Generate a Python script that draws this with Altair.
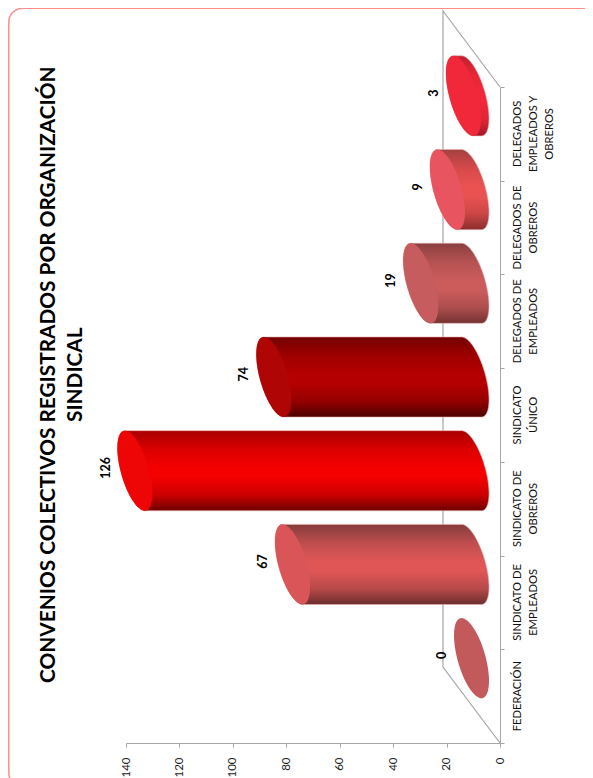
import math
import altair as alt
import pandas as pd

categories = ["FEDERACIÓN", "SINDICATO DE\nEMPLEADOS", "SINDICATO DE\nOBREROS", "SINDICATO\nÚNICO",
              "DELEGADOS DE\nEMPLEADOS", "DELEGADOS DE\nOBREROS", "DELEGADOS\nEMPLEADOS Y\nOBREROS"]
values = [0, 67, 126, 74, 19, 9, 3]
cap_colors = ["#c25a5c", "#d95558", "#ee0505", "#b00505", "#c65c5e", "#e85560", "#f0283a"]
edge_top = ["#c25a5c", "#853c3c", "#a80000", "#730000", "#8a4040", "#a54040", "#c02030"]
edge_q1 = ["#c25a5c", "#c04e4e", "#dc0000", "#a00000", "#b65252", "#d64a4a", "#e82636"]
edge_mid = ["#c25a5c", "#e05656", "#f40000", "#b40000", "#cc5c5c", "#ea5252", "#f0283a"]
edge_q3 = ["#c25a5c", "#b84a4a", "#cc0000", "#960000", "#ae4e4e", "#cc4646", "#e02434"]
edge_bot = ["#c25a5c", "#6c2e2e", "#6e0000", "#4c0000", "#743232", "#8a2e2e", "#a01a28"]
title_lines = ["CONVENIOS COLECTIVOS REGISTRADOS POR ORGANIZACIÓN", "SINDICAL"]
value_ticks = [0, 20, 40, 60, 80, 100, 120, 140]
category_ticks = [0, 1, 2, 3, 4, 5, 6, 7]

GREY = "#a6a6a6"
PX_W, PX_H = 374, 656
UX, UY = PX_W / 140, PX_H / 7          # pixels per data unit
DEPTH_X, DEPTH_Y = 57 / UX, 76 / UY    # depth of the 3D floor, in data units
VX, VY, RAD = 17.5, 22.7, 33.0         # projected circle, in pixels
R = math.hypot(RAD, VY)

sx = alt.Scale(domain=[140, 0], nice=False, zero=False)
sy = alt.Scale(domain=[0, 7], nice=False, zero=False)
axis_x = alt.Axis(values=value_ticks, labelAngle=270, labelAlign="right", labelBaseline="middle",
                  labelFont="Lato", labelFontSize=11.5, labelColor="#222222", labelPadding=10,
                  tickSize=4, tickColor=GREY, domainColor=GREY, grid=False, title=None)
axis_y = alt.Axis(orient="right", values=category_ticks, labels=False, tickSize=4, tickColor=GREY,
                  domainColor=GREY, grid=False, title=None)
X = lambda f, **k: alt.X(f, type="quantitative", scale=sx, axis=axis_x, title=None, **k)
Y = lambda f, **k: alt.Y(f, type="quantitative", scale=sy, axis=axis_y, title=None, **k)


def ellipse_bounds(py):
    s = math.sqrt(max(R * R - py * py, 0))
    mid = VX * VY * py / (R * R)
    half = VX * RAD * s / (R * R)
    return mid - half, mid + half


layers = []

# Frame of the page
layers.append(alt.Chart(pd.DataFrame({"a": [0]})).mark_rect(
    filled=False, stroke="#ff8f86", strokeWidth=1.5, cornerRadius=14, fill=None).encode(
    x=alt.value(-117.2), x2=alt.value(560), y=alt.value(-78.8), y2=alt.value(700)))

# Back wall and floor edges
wall = pd.DataFrame({"x": [0, DEPTH_X, DEPTH_X, 0], "y": [7, 7 + DEPTH_Y, DEPTH_Y, 0], "o": [0, 1, 2, 3]})
layers.append(alt.Chart(wall).mark_line(color=GREY, strokeWidth=1.2, clip=False).encode(
    x=X("x"), y=Y("y"), order="o:O"))

# Cylinders
ys = [R * math.sin(math.pi * k / 60 - math.pi / 2) for k in range(61)]
base_v = DEPTH_X / 2
for i, v in enumerate(values):
    cy = i + 0.5 + DEPTH_Y / 2
    cap_v = v + base_v
    body, cap = [], []
    for py in ys:
        lo, hi = ellipse_bounds(py)
        row_y = cy - py / UY
        body.append({"y": row_y, "x": cap_v - lo / UX, "x2": base_v - hi / UX})
        cap.append({"y": row_y, "x": cap_v - lo / UX, "x2": cap_v - hi / UX})
    if v > 0:
        grad = alt.Gradient(gradient="linear", x1=0, x2=0, y1=0, y2=1, stops=[
            alt.GradientStop(color=edge_top[i], offset=0),
            alt.GradientStop(color=edge_q1[i], offset=0.24),
            alt.GradientStop(color=edge_mid[i], offset=0.46),
            alt.GradientStop(color=edge_mid[i], offset=0.58),
            alt.GradientStop(color=edge_q3[i], offset=0.8),
            alt.GradientStop(color=edge_bot[i], offset=1),
        ])
        layers.append(alt.Chart(pd.DataFrame(body)).mark_area(
            orient="horizontal", color=grad, clip=False, stroke="#eeb0b0", strokeWidth=0.6).encode(
            y=Y("y"), x=X("x", stack=None), x2="x2"))
    layers.append(alt.Chart(pd.DataFrame(cap)).mark_area(
        orient="horizontal", color=cap_colors[i], clip=False).encode(
        y=Y("y"), x=X("x", stack=None), x2="x2"))

# Value labels
labels = pd.DataFrame({"t": [str(v) for v in values],
                       "x": [v + base_v + 11 for v in values],
                       "y": [i + 0.5 + DEPTH_Y / 2 + 0.03 for i in range(7)]})
layers.append(alt.Chart(labels).mark_text(angle=270, font="Lato", fontWeight="bold", fontSize=12.5,
                                          color="#000000", align="center", baseline="middle", clip=False).encode(
    x=X("x"), y=Y("y"), text="t:N"))

# Category labels
cats = pd.DataFrame({"t": categories, "x": [-4.4] * 7, "y": [i + 0.5 for i in range(7)]})
layers.append(alt.Chart(cats).mark_text(angle=270, font="Lato", fontSize=11.2, color="#111111", align="center",
                                        baseline="top", lineBreak="\n", lineHeight=16, clip=False).encode(
    x=X("x"), y=Y("y"), text="t:N"))

# Title
titles = pd.DataFrame({"t": title_lines, "x": [169.0, 158.7], "y": [3.93, 3.93]})
layers.append(alt.Chart(titles).mark_text(angle=270, font="Lato", fontWeight="bold", fontSize=20.8,
                                          color="#000000", align="center", baseline="middle", clip=False).encode(
    x=X("x"), y=Y("y"), text="t:N"))

chart = alt.layer(*layers).properties(
    width=PX_W, height=PX_H,
    autosize=alt.AutoSizeParams(type="none"),
    padding={"left": 118, "top": 79, "right": 85, "bottom": 35},
    background="white",
).configure_view(stroke=None)

chart.save("out.html", embed_options={"renderer": "svg", "actions": False})
